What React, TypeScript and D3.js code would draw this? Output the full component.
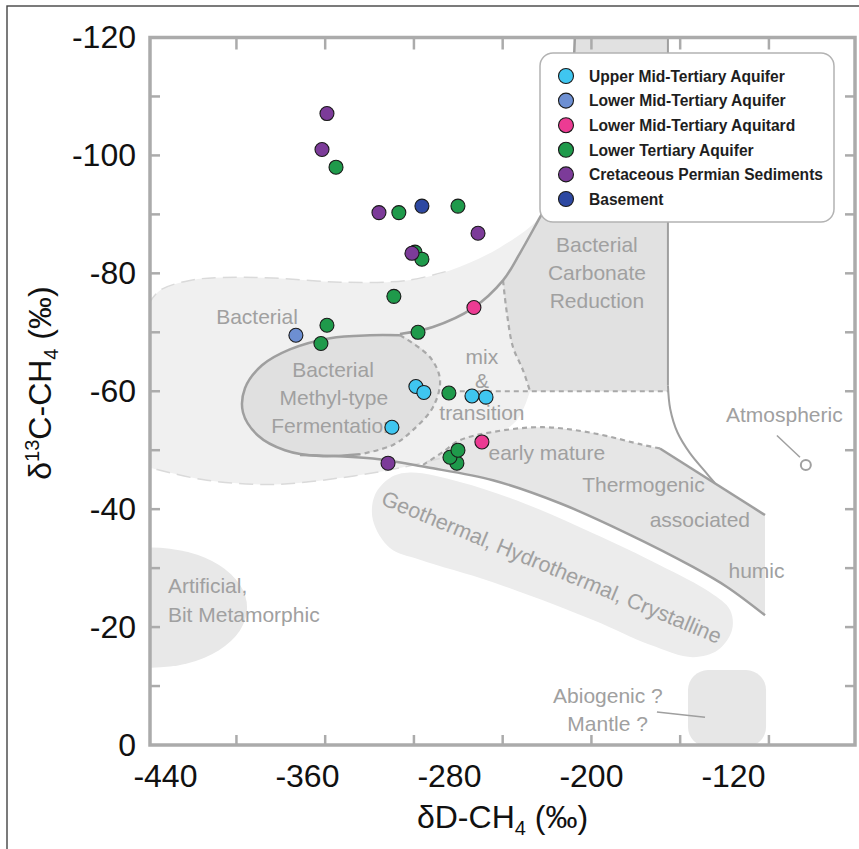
import React from "react";
import * as d3 from "d3";

type P = [number, number];

const W = 859;
const H = 849;

// ---- axes ----
const xDomain: P = [-448.7, -51.5];
const yDomain: P = [0, -120];
const xTickLabels = [-440, -360, -280, -200, -120];
const xTickMarks = [-400, -350, -300, -250, -200, -150, -100];
const yTickLabels = [-120, -100, -80, -60, -40, -20, 0];
const yTickMarks = [-110, -100, -90, -80, -70, -60, -50, -40, -30, -20, -10];

// ---- series ----
const seriesNames = [
  "Upper Mid-Tertiary Aquifer",
  "Lower Mid-Tertiary Aquifer",
  "Lower Mid-Tertiary Aquitard",
  "Lower Tertiary Aquifer",
  "Cretaceous Permian Sediments",
  "Basement",
];
const seriesColors = ["#3fc6f0", "#6d8fd2", "#ec3b93", "#1f9a4b", "#7c3b99", "#2d48a2"];

const upperMidAquiferDD = [-298.9, -294.4, -267.3, -259.4, -312.4];
const upperMidAquiferD13C = [-60.8, -59.8, -59.2, -59.0, -53.9];
const lowerMidAquiferDD = [-366.5];
const lowerMidAquiferD13C = [-69.5];
const lowerMidAquitardDD = [-266.2, -261.7];
const lowerMidAquitardD13C = [-74.2, -51.4];
const lowerTertiaryDD = [-343.9, -308.5, -275.2, -299.4, -295.5, -311.3, -349.0, -352.4, -297.7, -280.3, -275.8, -279.7, -275.2];
const lowerTertiaryD13C = [-98.0, -90.3, -91.4, -83.6, -82.4, -76.1, -71.2, -68.1, -70.0, -59.7, -47.8, -48.8, -50.0];
const cretaceousDD = [-349.0, -351.8, -319.7, -301.1, -263.9, -314.6];
const cretaceousD13C = [-107.1, -101.0, -90.3, -83.4, -86.8, -47.8];
const basementDD = [-295.5];
const basementD13C = [-91.4];

const seriesDD = [upperMidAquiferDD, lowerMidAquiferDD, lowerMidAquitardDD, lowerTertiaryDD, cretaceousDD, basementDD];
const seriesD13C = [upperMidAquiferD13C, lowerMidAquiferD13C, lowerMidAquitardD13C, lowerTertiaryD13C, cretaceousD13C, basementD13C];

const atmosphericPoint: P = [-79.2, -47.5];
const atmosphericLeader: P[] = [[-95.5, -52.5], [-82.5, -48.8]];
const abiogenicLeader: P[] = [[-163.1, -5.6], [-136.0, -4.7]];

// ---- genetic fields (dD, d13C) ----
const bactTop: P[] = [
  [-449.9, -74.6], [-443.1, -77.1], [-426.2, -78.8], [-407.6, -79.3], [-379.4, -79.2],
  [-341.7, -78.5], [-303.9, -78.8], [-279.7, -80.5], [-251.5, -84.4], [-229.0, -89.5],
  [-217.7, -95.7], [-212.1, -105.9], [-209.3, -120.5],
];
const bactRightCorners: P[] = [[-209.3, -120.5], [-156.9, -120.5], [-156.9, -60.0], [-234.6, -60.0]];
const bactBottom: P[] = [
  [-234.6, -60.0], [-242.0, -55.1], [-261.1, -51.4], [-285.4, -48.6], [-307.9, -47.0],
  [-341.7, -45.3], [-379.4, -44.2], [-416.6, -44.9], [-443.1, -46.6], [-449.9, -47.1],
];
const carbLeft: P[] = [[-249.8, -78.8], [-247.6, -73.2], [-244.2, -67.5], [-238.6, -63.6], [-234.6, -60.0]];
const carbCorners: P[] = [[-234.6, -60.0], [-156.9, -60.0], [-156.9, -120.5], [-209.3, -120.5]];
const l1Lower: P[] = [[-307.9, -69.7], [-289.3, -70.9], [-266.8, -74.1], [-249.8, -78.8]];
const l1Upper: P[] = [[-249.8, -78.8], [-240.3, -83.4], [-229.0, -89.5], [-217.7, -95.7], [-212.1, -105.9], [-209.3, -120.5]];
const mixDashed: P[] = [[-284.3, -60.0], [-156.9, -60.0]];
const methylEllipse: P[] = [
  [-307.9, -69.5], [-291.0, -65.8], [-285.3, -61.9], [-289.3, -57.3], [-300.6, -53.4],
  [-311.8, -50.9], [-330.4, -49.3], [-353.0, -49.0], [-372.7, -50.0], [-387.9, -52.5],
  [-396.3, -56.4], [-395.2, -60.5], [-385.6, -64.4], [-369.9, -67.1], [-347.3, -69.0], [-324.8, -69.5],
];
const l2: P[] = [
  [-364.2, -49.2], [-323.1, -48.6], [-292.7, -47.1], [-255.5, -44.9], [-217.7, -41.0],
  [-180.0, -35.9], [-142.8, -30.2], [-123.6, -26.8], [-102.2, -22.0],
];
const thermoTopDashed: P[] = [
  [-294.9, -47.5], [-283.7, -49.7], [-274.1, -51.7], [-255.5, -53.1], [-227.3, -53.9],
  [-199.1, -52.9], [-171.0, -50.9], [-161.4, -50.3],
];
const thermoTopSolid: P[] = [[-161.4, -50.3], [-102.2, -39.0], [-102.2, -22.0]];
const atmVertical: P[] = [[-156.9, -120.5], [-156.9, -61.0]];
const atmCurve: P[] = [[-156.9, -61.0], [-155.6, -57.0], [-151.5, -53.0], [-144.5, -49.5], [-136.0, -46.4], [-130.4, -44.4]];
const geothermal: P[] = [
  [-302.2, -46.2], [-274.1, -44.6], [-236.3, -40.8], [-199.1, -35.9], [-161.4, -30.5],
  [-133.2, -25.9], [-121.9, -22.9], [-120.8, -19.5], [-128.7, -16.1], [-142.8, -14.9],
  [-167.0, -17.0], [-199.1, -21.2], [-255.5, -27.6], [-296.6, -31.4], [-313.5, -33.4],
  [-323.1, -38.1], [-322.0, -42.4], [-313.5, -45.3],
];
const artificialCenter: P = [-448, -23.3];
const artificialRadii: P = [54, 10.2];
const abiogenicBox: P[] = [[-145.6, -12.7], [-101.6, 0.3]];

type Lab = { text: string; at: P; anchor?: string; rotate?: number; size?: number };
const fieldLabels: Lab[] = [
  { text: "Bacterial", at: [-388.4, -71.4] },
  { text: "Bacterial", at: [-345.6, -62.4] },
  { text: "Methyl-type", at: [-345.1, -57.6] },
  { text: "Fermentation", at: [-345.6, -52.9] },
  { text: "Bacterial", at: [-196.9, -83.6] },
  { text: "Carbonate", at: [-196.9, -78.8] },
  { text: "Reduction", at: [-196.9, -74.1] },
  { text: "mix", at: [-261.7, -64.7] },
  { text: "&", at: [-261.7, -60.5] },
  { text: "transition", at: [-261.7, -55.1] },
  { text: "early mature", at: [-225.1, -48.3] },
  { text: "Thermogenic", at: [-170.7, -42.9] },
  { text: "associated", at: [-138.9, -37.0] },
  { text: "humic", at: [-107.0, -28.3] },
  { text: "Geothermal, Hydrothermal, Crystalline", at: [-224.0, -29.0], rotate: 22.5, size: 21.5 },
  { text: "Artificial,", at: [-438.6, -25.8], anchor: "start" },
  { text: "Bit Metamorphic", at: [-438.6, -20.8], anchor: "start" },
  { text: "Atmospheric", at: [-91.3, -54.8] },
  { text: "Abiogenic ?", at: [-190.7, -7.1] },
  { text: "Mantle ?", at: [-190.9, -2.4] },
];

const x = d3.scaleLinear().domain(xDomain).range([150, 855]);
const y = d3.scaleLinear().domain(yDomain).range([745, 37.5]);

const smoothGen = d3.line<P>().x((d) => x(d[0])).y((d) => y(d[1])).curve(d3.curveCatmullRom.alpha(0.5));
const linearGen = d3.line<P>().x((d) => x(d[0])).y((d) => y(d[1]));
const closedGen = d3.line<P>().x((d) => x(d[0])).y((d) => y(d[1])).curve(d3.curveCatmullRomClosed.alpha(0.5));

function joined(pieces: [P[], boolean][]): string {
  return (
    pieces
      .map(([pts, sm], i) => {
        const s = (sm ? smoothGen : linearGen)(pts) || "";
        return i === 0 ? s : "L" + s.slice(1);
      })
      .join("") + "Z"
  );
}

const FONT = "'Liberation Sans', Arial, Helvetica, sans-serif";
const SOLID = "#9f9f9f";
const DASH = "#a9a9a9";
const LABEL = "#a0a0a0";

export default function App() {
  const bactPath = joined([[bactTop, true], [bactRightCorners, false], [bactBottom, true]]);
  const carbPath = joined([[carbLeft, true], [carbCorners, false], [l1Upper.slice().reverse(), true]]);
  const thermoPath = joined([[thermoTopDashed, true], [thermoTopSolid, false], [l2.slice(2).reverse(), true]]);
  const ellipseDashed = methylEllipse.slice(0, 7);
  const ellipseSolid = methylEllipse.slice(6).concat([methylEllipse[0]]);
  const l1Full = l1Lower.concat(l1Upper.slice(1));

  const frame = { x0: 150, y0: 37.5, x1: 855, y1: 745 };
  const legendX = 540, legendY = 53, legendW = 294, legendH = 169;

  return (
    <svg width={W} height={H} style={{ position: "absolute", left: 0, top: 0, background: "#fff" }} fontFamily={FONT}>
      <defs>
        <clipPath id="plotClip">
          <rect x={frame.x0} y={frame.y0} width={frame.x1 - frame.x0} height={frame.y1 - frame.y0} />
        </clipPath>
      </defs>
      <rect x={0} y={0} width={W} height={H} fill="#fff" />

      <g clipPath="url(#plotClip)">
        {/* fields */}
        <path d={bactPath} fill="#f0f0f0" />
        <ellipse
          cx={x(artificialCenter[0])}
          cy={y(artificialCenter[1])}
          rx={x(artificialCenter[0] + artificialRadii[0]) - x(artificialCenter[0])}
          ry={y(artificialCenter[1]) - y(artificialCenter[1] - artificialRadii[1])}
          fill="#e8e8e8"
        />
        <path d={carbPath} fill="#e1e1e1" />
        <path d={closedGen(methylEllipse) || ""} fill="#e0e0e0" />
        <path d={thermoPath} fill="#e6e6e6" />
        <path d={closedGen(geothermal) || ""} fill="#ececec" />
        <rect
          x={x(abiogenicBox[0][0])}
          y={y(abiogenicBox[0][1])}
          width={x(abiogenicBox[1][0]) - x(abiogenicBox[0][0])}
          height={y(abiogenicBox[1][1]) - y(abiogenicBox[0][1])}
          rx={20}
          fill="#e7e7e7"
        />

        {/* boundaries */}
        <path d={smoothGen(bactTop.slice(0, 8)) || ""} fill="none" stroke="#dadada" strokeWidth={1.5} strokeDasharray="14 7" />
        <path d={smoothGen(bactBottom.slice(3)) || ""} fill="none" stroke="#dadada" strokeWidth={1.5} strokeDasharray="14 7" />
        <path d={smoothGen(carbLeft) || ""} fill="none" stroke={DASH} strokeWidth={2.2} strokeDasharray="5 4" />
        <path d={linearGen(mixDashed) || ""} fill="none" stroke={DASH} strokeWidth={2.2} strokeDasharray="5 4" />
        <path d={smoothGen(ellipseDashed) || ""} fill="none" stroke={DASH} strokeWidth={2.2} strokeDasharray="5 4" />
        <path d={smoothGen(thermoTopDashed) || ""} fill="none" stroke={DASH} strokeWidth={2.2} strokeDasharray="5 4" />
        <path d={smoothGen(ellipseSolid) || ""} fill="none" stroke={SOLID} strokeWidth={2.5} />
        <path d={smoothGen(l1Full) || ""} fill="none" stroke={SOLID} strokeWidth={2.5} />
        <path d={smoothGen(l2) || ""} fill="none" stroke={SOLID} strokeWidth={2.5} />
        <path d={linearGen(thermoTopSolid.slice(0, 2)) || ""} fill="none" stroke={SOLID} strokeWidth={2.5} />
        <path d={linearGen(atmVertical) || ""} fill="none" stroke={SOLID} strokeWidth={2} />
        <path d={smoothGen(atmCurve) || ""} fill="none" stroke={SOLID} strokeWidth={2} />
        <path d={linearGen(atmosphericLeader) || ""} fill="none" stroke={SOLID} strokeWidth={1.5} />
        <path d={linearGen(abiogenicLeader) || ""} fill="none" stroke={SOLID} strokeWidth={1.5} />
        <circle cx={x(atmosphericPoint[0])} cy={y(atmosphericPoint[1])} r={5} fill="#fff" stroke="#a0a0a0" strokeWidth={2} />

        {/* field labels */}
        {fieldLabels.map((l, i) => (
          <text
            key={i}
            x={x(l.at[0])}
            y={y(l.at[1])}
            textAnchor={l.anchor || "middle"}
            fontSize={l.size || 21}
            fill={LABEL}
            transform={l.rotate ? `rotate(${l.rotate},${x(l.at[0])},${y(l.at[1])})` : undefined}
          >
            {l.text}
          </text>
        ))}
      </g>

      {/* frame and ticks */}
      <rect x={frame.x0} y={frame.y0} width={frame.x1 - frame.x0} height={frame.y1 - frame.y0} fill="none" stroke="#ababab" strokeWidth={3.5} />
      {yTickMarks.map((v) => (
        <g key={"yt" + v} stroke="#ababab" strokeWidth={2.5}>
          <line x1={frame.x0} x2={frame.x0 + 10} y1={y(v)} y2={y(v)} />
          <line x1={frame.x1} x2={frame.x1 - 10} y1={y(v)} y2={y(v)} />
        </g>
      ))}
      {xTickMarks.map((v) => (
        <g key={"xt" + v} stroke="#ababab" strokeWidth={2.5}>
          <line x1={x(v)} x2={x(v)} y1={frame.y1} y2={frame.y1 - 10} />
          <line x1={x(v)} x2={x(v)} y1={frame.y0} y2={frame.y0 + 12} />
        </g>
      ))}

      {/* tick labels */}
      {yTickLabels.map((v) => (
        <text key={"yl" + v} x={136} y={y(v) + 10.5} textAnchor="end" fontSize={32} fill="#111">
          {v}
        </text>
      ))}
      {xTickLabels.map((v) => (
        <text key={"xl" + v} x={x(v)} y={787} textAnchor="middle" fontSize={32} fill="#111">
          {v}
        </text>
      ))}

      {/* axis titles */}
      <text x={502.5} y={828} textAnchor="middle" fontSize={32} fill="#111">
        δD-CH<tspan fontSize={20} dy={7}>4</tspan>
        <tspan dy={-7}> (‰)</tspan>
      </text>
      <text transform="translate(51,383) rotate(-90)" textAnchor="middle" fontSize={32} fill="#111">
        δ<tspan fontSize={20} dy={-12}>13</tspan>
        <tspan dy={12}>C-CH</tspan>
        <tspan fontSize={20} dy={7}>4</tspan>
        <tspan dy={-7}> (‰)</tspan>
      </text>

      {/* data points */}
      {seriesDD.map((xs, si) =>
        xs.map((dv, i) => (
          <circle
            key={si + "-" + i}
            cx={x(dv)}
            cy={y(seriesD13C[si][i])}
            r={7}
            fill={seriesColors[si]}
            stroke="#1a1a1a"
            strokeWidth={1.1}
          />
        ))
      )}

      {/* legend */}
      <rect x={legendX} y={legendY} width={legendW} height={legendH} rx={13} fill="#fff" stroke="#b3b3b3" strokeWidth={1.5} />
      {seriesNames.map((n, i) => (
        <g key={n}>
          <circle cx={566} cy={76 + i * 24.6} r={7.5} fill={seriesColors[i]} stroke="#1a1a1a" strokeWidth={1.1} />
          <text x={589} y={76 + i * 24.6 + 5.8} fontSize={15.6} fontWeight="bold" fill="#1e1e1e">
            {n}
          </text>
        </g>
      ))}

      {/* outer border */}
      <rect x={7} y={6} width={W + 20} height={H + 20} fill="none" stroke="#444" strokeWidth={1.4} />
    </svg>
  );
}
